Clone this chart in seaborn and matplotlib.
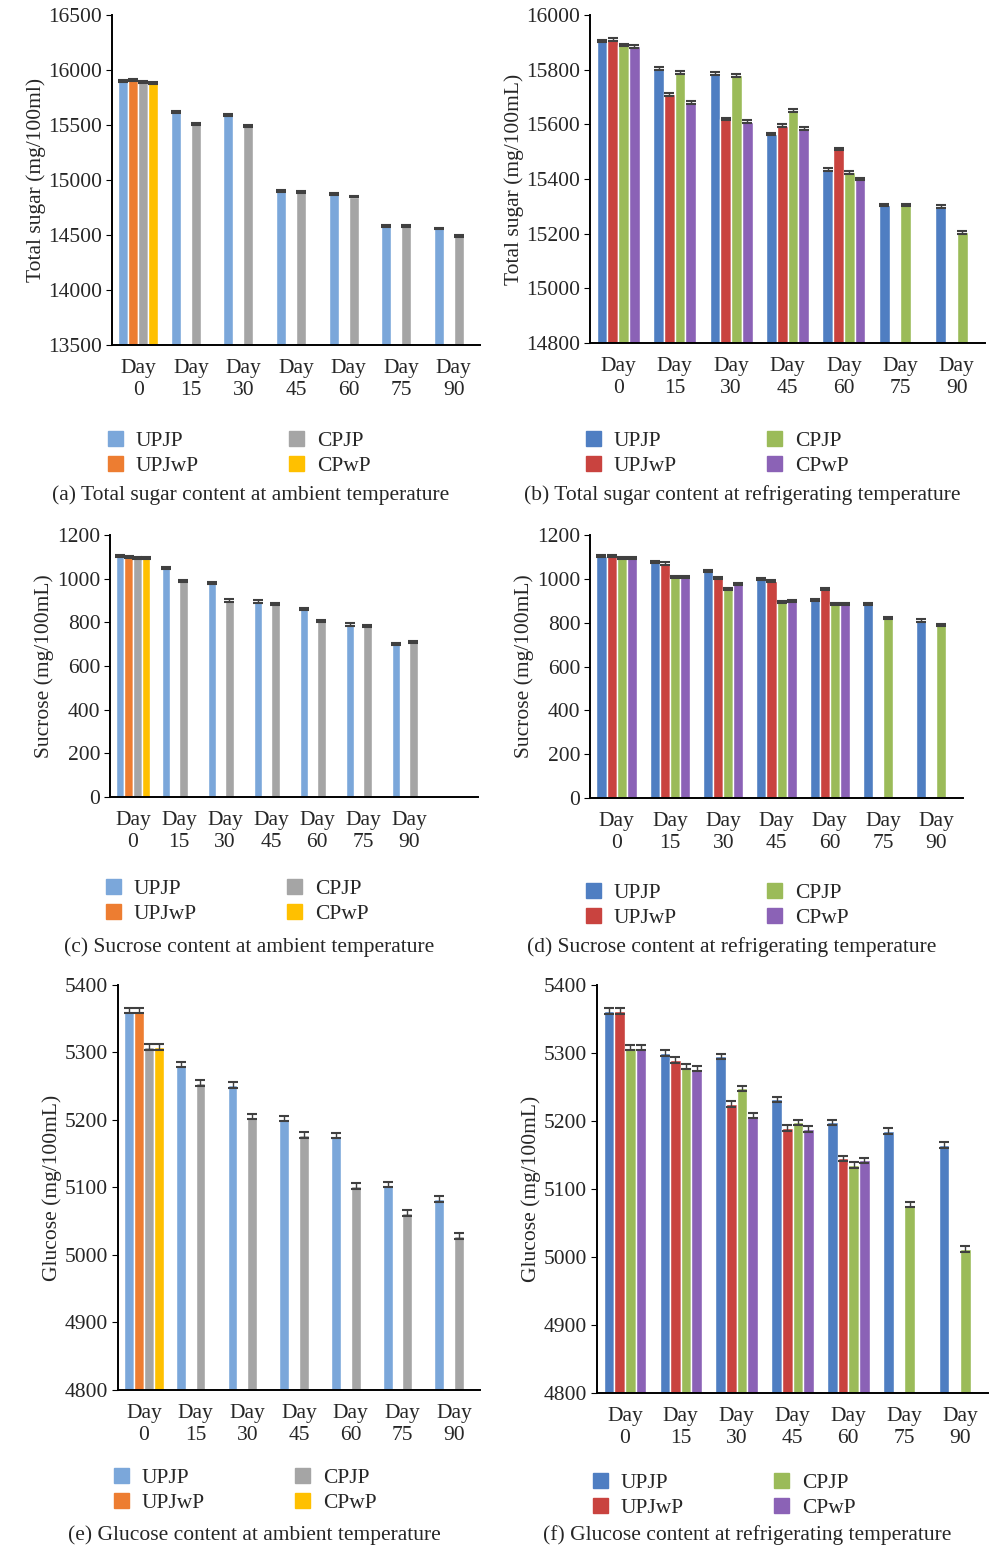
import numpy as np
import pandas as pd
import seaborn as sns
import matplotlib.pyplot as plt

days = ["Day\n0", "Day\n15", "Day\n30", "Day\n45", "Day\n60", "Day\n75", "Day\n90"]
groups = ["UPJP", "UPJwP", "CPJP", "CPwP"]
nan = np.nan

# ambient total sugar
a_upjp = [15900, 15620, 15590, 14900, 14870, 14580, 14560]
a_upjwp = [15910, nan, nan, nan, nan, nan, nan]
a_cpjp = [15890, 15510, 15490, 14890, 14850, 14580, 14490]
a_cpwp = [15880, nan, nan, nan, nan, nan, nan]
# refrigerated total sugar
b_upjp = [15905, 15805, 15785, 15565, 15435, 15305, 15300]
b_upjwp = [15910, 15710, 15620, 15595, 15510, nan, nan]
b_cpjp = [15890, 15790, 15780, 15650, 15425, 15305, 15205]
b_cpwp = [15885, 15680, 15610, 15585, 15400, nan, nan]
# ambient sucrose
c_upjp = [1105, 1050, 980, 895, 860, 790, 700]
c_upjwp = [1100, nan, nan, nan, nan, nan, nan]
c_cpjp = [1095, 990, 900, 885, 805, 785, 710]
c_cpwp = [1095, nan, nan, nan, nan, nan, nan]
# refrigerated sucrose
d_upjp = [1105, 1075, 1035, 1000, 905, 885, 810]
d_upjwp = [1105, 1070, 1005, 990, 955, nan, nan]
d_cpjp = [1095, 1010, 955, 895, 885, 820, 790]
d_cpwp = [1095, 1010, 975, 900, 885, nan, nan]
# ambient glucose
e_upjp = [5362, 5282, 5252, 5202, 5177, 5104, 5083]
e_upjwp = [5362, nan, nan, nan, nan, nan, nan]
e_cpjp = [5308, 5255, 5205, 5178, 5102, 5062, 5028]
e_cpwp = [5308, nan, nan, nan, nan, nan, nan]
# refrigerated glucose
f_upjp = [5362, 5300, 5295, 5232, 5198, 5185, 5165]
f_upjwp = [5362, 5290, 5225, 5190, 5145, nan, nan]
f_cpjp = [5308, 5280, 5248, 5198, 5135, 5077, 5012]
f_cpwp = [5308, 5277, 5208, 5188, 5142, nan, nan]

amb_colors = ["#7BA7DA", "#ED7D31", "#A5A5A5", "#FFC000"]
ref_colors = ["#4F7EC2", "#C9433F", "#9BBB59", "#8B62B6"]

sns.set_style("white")
plt.rcParams["font.family"] = ["Liberation Serif", "DejaVu Serif"]

fig = plt.figure(figsize=(10.05, 15.5), dpi=100)
W, H = 1005, 1550
FS = 15.5


def panel(box, series, colors, ylim, step, ylabel, caption, errs, extra_cat=False, leg_y=0.0, cap_y=0.0):
    l, r, t, b = box
    ax = fig.add_axes([l / W, 1 - b / H, (r - l) / W, (b - t) / H])
    cats = days + ([" "] if extra_cat else [])
    rows = []
    for g, vals in zip(groups, series):
        for d, v in zip(cats, list(vals) + ([nan] if extra_cat else [])):
            rows.append({"day": d, "group": g, "value": v})
    df = pd.DataFrame(rows)
    sns.barplot(data=df, x="day", y="value", hue="group", order=cats, hue_order=groups,
                palette=colors, width=0.76, ax=ax, saturation=1, errorbar=None)
    for cont, vals in zip(ax.containers, series):
        for bar, v in zip(cont, vals):
            if np.isnan(v):
                continue
            ax.errorbar(bar.get_x() + bar.get_width() / 2, v, yerr=errs, color="#404040",
                        capsize=3.5, elinewidth=1, capthick=1.5)
    ax.set_ylim(*ylim)
    ax.set_yticks(np.arange(ylim[0], ylim[1] + 1, step))
    ax.set_xlim(-0.5, len(cats) - 0.5)
    ax.set_xlabel("")
    ax.set_ylabel(ylabel, fontsize=FS, labelpad=2)
    ax.tick_params(axis="both", labelsize=FS, length=0)
    ax.tick_params(axis="x", pad=10)
    ax.tick_params(axis="y", left=True, length=4, color="black", direction="out", pad=3)
    for s in ["top", "right"]:
        ax.spines[s].set_visible(False)
    for s in ["left", "bottom"]:
        ax.spines[s].set_color("black")
        ax.spines[s].set_linewidth(1.4)
    ax.legend_.remove()
    handles = [plt.Rectangle((0, 0), 1, 1, color=c) for c in colors]
    fig.legend(handles, groups, loc="upper left", ncol=2, frameon=False, fontsize=FS,
               bbox_to_anchor=((l - 15) / W, 1 - leg_y / H), handlelength=0.7,
               handleheight=0.7, columnspacing=4.2, labelspacing=0.25, handletextpad=0.6,
               borderpad=0)
    fig.text(((l + r) / 2 - 45) / W, 1 - cap_y / H, caption, ha="center", va="center", fontsize=FS)
    return ax


panel((112, 480, 15, 345), [a_upjp, a_upjwp, a_cpjp, a_cpwp], amb_colors, (13500, 16500), 500,
      "Total sugar (mg/100ml)", "(a) Total sugar content at ambient temperature", 8,
      leg_y=420, cap_y=495)
panel((590, 985, 15, 343), [b_upjp, b_upjwp, b_cpjp, b_cpwp], ref_colors, (14800, 16000), 200,
      "Total sugar (mg/100mL)", "(b) Total sugar content at refrigerating temperature", 5,
      leg_y=420, cap_y=495)
panel((110, 478, 535, 797), [c_upjp, c_upjwp, c_cpjp, c_cpwp], amb_colors, (0, 1200), 200,
      "Sucrose (mg/100mL)", "(c) Sucrose content at ambient temperature", 5, extra_cat=True,
      leg_y=868, cap_y=947)
panel((590, 963, 535, 798), [d_upjp, d_upjwp, d_cpjp, d_cpwp], ref_colors, (0, 1200), 200,
      "Sucrose (mg/100mL)", "(d) Sucrose content at refrigerating temperature", 5,
      leg_y=872, cap_y=947)
panel((118, 480, 985, 1390), [e_upjp, e_upjwp, e_cpjp, e_cpwp], amb_colors, (4800, 5400), 100,
      "Glucose (mg/100mL)", "(e) Glucose content at ambient temperature", 4,
      leg_y=1457, cap_y=1535)
panel((597, 988, 985, 1393), [f_upjp, f_upjwp, f_cpjp, f_cpwp], ref_colors, (4800, 5400), 100,
      "Glucose (mg/100mL)", "(f) Glucose content at refrigerating temperature", 4,
      leg_y=1462, cap_y=1535)

fig.savefig("out.png", dpi=100)
